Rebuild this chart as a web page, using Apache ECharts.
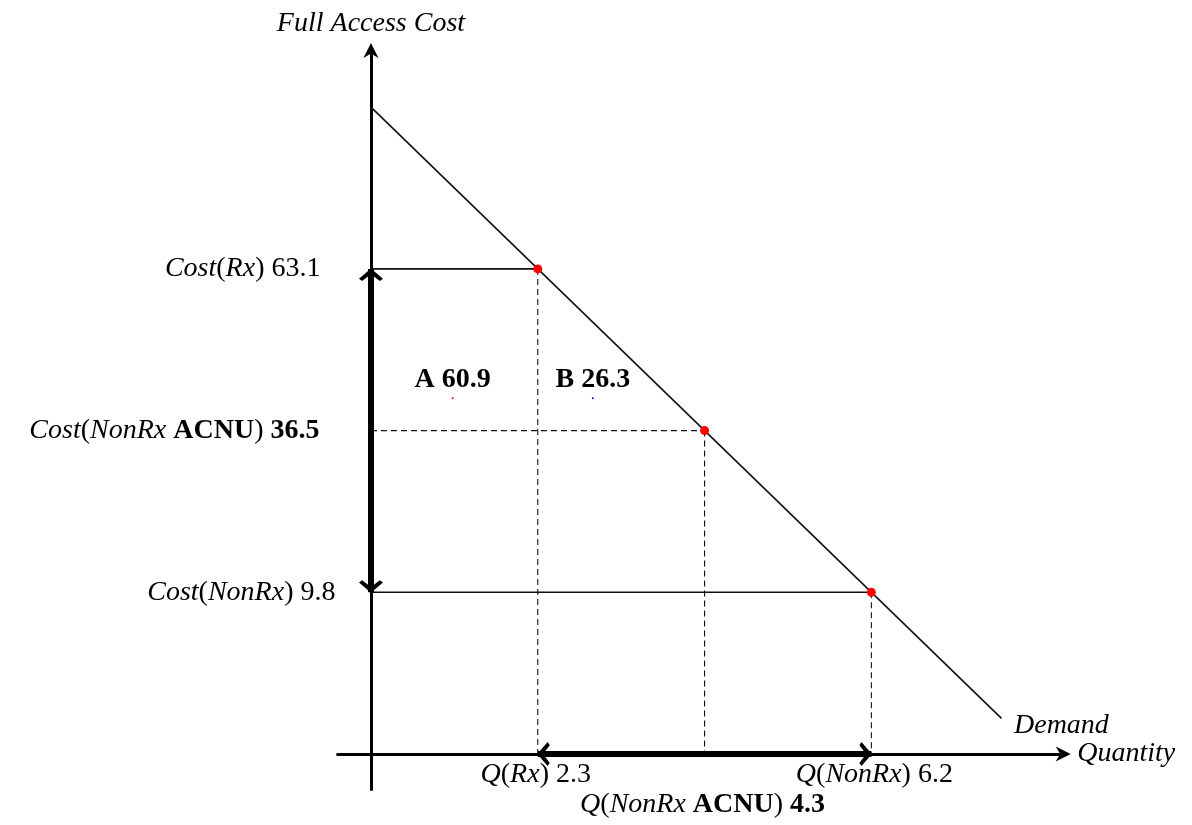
<!DOCTYPE html>
<html>
<head>
<meta charset="utf-8">
<script src="https://cdn.jsdelivr.net/npm/echarts@6/dist/echarts.min.js"></script>
<style>html,body{margin:0;padding:0;background:#fff}#c{width:1192px;height:825px}</style>
</head>
<body>
<div id="c"></div>
<script>
// schematic positions of the three price/quantity points (diagram units)
const qPos = [1, 2, 3];
const cPos = [3, 2, 1];
// values written in the labels
const qValues = [2.3, 4.3, 6.2];
const costValues = [63.1, 36.5, 9.8];
const pointNames = ['Rx', 'NonRx ACNU', 'NonRx'];
const areaNames = ['A', 'B'];
const areaValues = [60.9, 26.3];
const areaPos = [[0.49, 2.2], [1.33, 2.2]];
const areaDotColors = ['#ff0000', '#0000ff'];
const demandLine = [[0, 4], [3.78, 0.22]];

const FONT = 'Liberation Serif';
const FS = 28;
const TXT = '#000';
const rich = {
  i: { fontFamily: FONT, fontStyle: 'italic', fontSize: FS, color: TXT },
  r: { fontFamily: FONT, fontSize: FS, color: TXT },
  b: { fontFamily: FONT, fontWeight: 'bold', fontSize: FS, color: TXT }
};
function nameRich(n) {
  if (n === 'NonRx ACNU') return '{i|NonRx }{b|ACNU}';
  return '{i|' + n + '}';
}
function valRich(n, v) {
  return n === 'NonRx ACNU' ? '{r|) }{b|' + v + '}' : '{r|) ' + v + '}';
}
// stealth axis arrow head pointing up
const ARROW = 'path://M5,0 L10,10 L5,7 L0,10 Z';
// chevron with its tip at the centre of the symbol box
const ARROW_TIP = 'path://M10,0 L10,0 Z M10,9.6 L19.2,18.2 L16.8,20 L10,14.4 L3.2,20 L0.8,18.2 Z';
const HIDDEN = { color: 'rgba(0,0,0,0)', opacity: 1 };

const series = [];
// demand curve
series.push({ type: 'line', data: demandLine, symbol: 'none', silent: true,
  lineStyle: { color: '#111', width: 1.6 }, z: 3 });
// horizontal and vertical guide lines
for (let k = 0; k < qPos.length; k++) {
  const solid = pointNames[k] !== 'NonRx ACNU';
  series.push({ type: 'line', symbol: 'none', silent: true,
    data: [[0, cPos[k]], [qPos[k], cPos[k]]],
    lineStyle: { color: '#111', width: solid ? 1.6 : 1.1, type: solid ? 'solid' : [6, 4] } });
  series.push({ type: 'line', symbol: 'none', silent: true,
    data: [[qPos[k], cPos[k]], [qPos[k], 0]],
    lineStyle: { color: '#111', width: 1.1, type: [6, 4] } });
}
// red points
series.push({ type: 'scatter', symbolSize: 9, z: 5, silent: true,
  itemStyle: { color: '#ff0000', opacity: 1 },
  data: qPos.map((q, k) => [q, cPos[k]]) });
// thick double arrows
series.push({ type: 'line', data: [], silent: true,
  markLine: { silent: true, symbol: [ARROW_TIP, ARROW_TIP], symbolSize: 24,
    label: { show: false },
    lineStyle: { color: '#000', width: 6, type: 'solid' },
    data: [
      [{ coord: [0, cPos[0]] }, { coord: [0, cPos[2]] }],
      [{ coord: [qPos[0], 0] }, { coord: [qPos[2], 0] }]
    ] } });
// cost labels (left of y axis)
const costDist = [50, 51, 35];
series.push({ type: 'scatter', symbolSize: 1, silent: true, itemStyle: HIDDEN,
  data: cPos.map((c, k) => ({ value: [0, c],
    label: { show: true, position: 'left', distance: costDist[k], color: TXT, rich,
      formatter: '{i|Cost}{r|(}' + nameRich(pointNames[k]) + valRich(pointNames[k], costValues[k]) } })) });
// quantity labels (below x axis)
const qDist = [6, 36, 6];
const qOff = [-2, -2, 3];
series.push({ type: 'scatter', symbolSize: 1, silent: true, itemStyle: HIDDEN,
  data: qPos.map((q, k) => ({ value: [q, 0],
    label: { show: true, position: 'bottom', distance: qDist[k], offset: [qOff[k], 0], color: TXT, rich,
      formatter: '{i|Q}{r|(}' + nameRich(pointNames[k]) + valRich(pointNames[k], qValues[k]) } })) });
// area labels A and B with tiny dots
series.push({ type: 'scatter', symbolSize: 2, silent: true,
  data: areaPos.map((p, k) => ({ value: p, itemStyle: { color: areaDotColors[k], opacity: 1 },
    label: { show: true, position: 'top', distance: 4, color: TXT, rich,
      formatter: '{b|' + areaNames[k] + ' ' + areaValues[k] + '}' } })) });
// Demand label
series.push({ type: 'scatter', symbolSize: 1, silent: true, itemStyle: HIDDEN,
  data: [{ value: demandLine[1], label: { show: true, position: 'right', distance: 12, offset: [0, 7],
    color: TXT, rich, formatter: '{i|Demand}' } }] });

const axisCommon = {
  type: 'value', splitLine: { show: false }, axisTick: { show: false }, axisLabel: { show: false },
  axisLine: { show: true, onZero: true, symbol: ['none', ARROW], symbolSize: [16, 15],
    lineStyle: { color: '#000', width: 3 } },
  nameTextStyle: { fontFamily: FONT, fontStyle: 'italic', fontSize: FS, color: TXT }
};

const chart = echarts.init(document.getElementById('c'));
chart.setOption({
  animation: false,
  backgroundColor: '#fff',
  grid: { left: 337.6, right: 128.8, top: 50.6, bottom: 35.4, containLabel: false },
  xAxis: Object.assign({}, axisCommon, { min: -0.2, max: 4.15, name: 'Quantity', nameLocation: 'end', nameGap: 14 }),
  yAxis: Object.assign({}, axisCommon, { min: -0.22, max: 4.35, name: 'Full Access Cost', nameLocation: 'end', nameGap: 13 }),
  series
});
</script>
</body>
</html>
